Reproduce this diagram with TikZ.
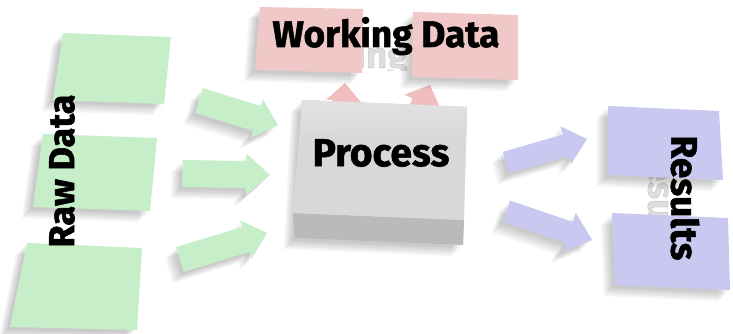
\documentclass[tikz,border=0pt]{standalone}
\usepackage{fontspec}
\setmainfont{Fira Sans}[BoldFeatures={FakeBold=1.4}]
\usetikzlibrary{calc}
\definecolor{rawgreen}{RGB}{198,238,200}
\definecolor{workpink}{RGB}{240,200,200}
\definecolor{respurple}{RGB}{200,200,240}
\definecolor{boxtop}{RGB}{216,216,216}
\definecolor{boxfront}{RGB}{186,186,186}
\tikzset{
  shadowlayer/.style={preaction={fill=black, opacity=0.045, transform canvas={xshift=-#1, yshift=-#1}}},
  softshadow/.style={shadowlayer=3pt, shadowlayer=5pt, shadowlayer=7pt, shadowlayer=9pt, shadowlayer=11pt},
  greenbox/.style={fill=rawgreen, softshadow},
  pinkbox/.style={fill=workpink, softshadow},
  purplebox/.style={fill=respurple, softshadow},
  greenarrow/.style={fill=rawgreen, softshadow},
  purplearrow/.style={fill=respurple, softshadow},
  pinkarrow/.style={fill=workpink!95!red},
  label3d/.style={text=black, inner sep=0pt},
  ghost/.style={text=black, opacity=0.13, inner sep=0pt},
}
% #1 style, #2 tail coord, #3 tip coord, #4 shaft half width, #5 head half width, #6 head length
\newcommand\blockarrow[6]{%
  \coordinate (#2-hb) at ($(#3)!#6!(#2)$);
  \path[#1] ($(#2)!#4!90:(#3)$) -- ($(#2-hb)!#4!-90:(#2)$) -- ($(#2-hb)!#5!-90:(#2)$)
    -- (#3) -- ($(#2-hb)!#5!90:(#2)$) -- ($(#2-hb)!#4!90:(#2)$) -- ($(#2)!#4!-90:(#3)$) -- cycle;}
\begin{document}
\begin{tikzpicture}[x=1pt,y=-1pt]
\useasboundingbox[fill=white] (0,0) rectangle (733,334);

% ---------- cast shadows of the standing labels (mostly hidden) ----------
\begin{scope}
  \clip (250,0) rectangle (520,71);
  \node[ghost, font=\bfseries\fontsize{37}{37}\selectfont, anchor=base] (workghost) at (381,68) {Working Data};
\end{scope}
\node[ghost, font=\bfseries\fontsize{37}{37}\selectfont, rotate=-90] (resghost) at (662,201) {Results};

% ---------- Raw data sheets ----------
\path[greenbox] (63,33) -- (171,37) -- (164,104) -- (53,100) -- cycle;
\path[greenbox] (43,134) -- (157,138) -- (150,211) -- (33,207) -- cycle;
\path[greenbox] (27,243) -- (142,248) -- (137,330) -- (10,327) -- cycle;

% ---------- arrow end points ----------
\coordinate (g1t) at (199,100.5);  \coordinate (g1h) at (278,125);
\coordinate (g2t) at (182.5,173.5);\coordinate (g2h) at (270,175);
\coordinate (g3t) at (180,259.5);  \coordinate (g3h) at (267,233);
\coordinate (p1t) at (506,162.5);  \coordinate (p1h) at (587,139);
\coordinate (p2t) at (506.5,211);  \coordinate (p2h) at (592,240);
\coordinate (w1t) at (341,135);    \coordinate (w1h) at (345,83);
\coordinate (w2t) at (409,135);    \coordinate (w2h) at (430,85);

% ---------- green arrows ----------
\blockarrow{greenarrow}{g1t}{g1h}{13pt}{20pt}{22pt}
\blockarrow{greenarrow}{g2t}{g2h}{13.5pt}{21pt}{24pt}
\blockarrow{greenarrow}{g3t}{g3h}{13pt}{20pt}{22pt}

% ---------- purple arrows ----------
\blockarrow{purplearrow}{p1t}{p1h}{11pt}{19.5pt}{22pt}
\blockarrow{purplearrow}{p2t}{p2h}{11pt}{20.5pt}{24pt}

% ---------- pink arrows (mostly hidden behind the box) ----------
\blockarrow{pinkarrow}{w1t}{w1h}{11pt}{17.5pt}{18pt}
\blockarrow{pinkarrow}{w2t}{w2h}{11pt}{20pt}{19pt}

% ---------- Process box ----------
\path[fill=boxtop, softshadow] (302,100) -- (467,107) -- (463,245) -- (295,238) -- cycle;
\path[fill=boxfront] (293,213) -- (464,220) -- (463,245) -- (295,238) -- cycle;
\path[fill=boxtop] (302,100) -- (467,107) -- (464,220) -- (293,213) -- cycle;
\path[top color=boxtop!75!white, bottom color=boxtop] (302,100) -- (467,107) -- (466,140) -- (300,133) -- cycle;

% ---------- Working data sheets ----------
\path[pinkbox] (260,7) -- (363,9) -- (362,73) -- (255,70) -- cycle;
\path[pinkbox] (413,12) -- (518,15) -- (518,80) -- (412,77) -- cycle;

% ---------- Result sheets ----------
\path[purplebox] (608,106) -- (719,111) -- (723,180) -- (608,175) -- cycle;
\path[purplebox] (612,213) -- (728,218) -- (730,290) -- (615,285) -- cycle;

% ---------- labels ----------
\node[label3d, font=\bfseries\fontsize{36}{36}\selectfont, rotate=90] (raw) at (62,171) {Raw Data};
\node[label3d, font=\bfseries\fontsize{37}{37}\selectfont, anchor=base] (work) at (386,47) {Working Data};
\node[label3d, font=\bfseries\fontsize{39}{39}\selectfont] (proc) at (381,153) {Process};
\node[label3d, font=\bfseries\fontsize{37}{37}\selectfont, rotate=-90] (res) at (685,198) {Results};
\end{tikzpicture}
\end{document}
